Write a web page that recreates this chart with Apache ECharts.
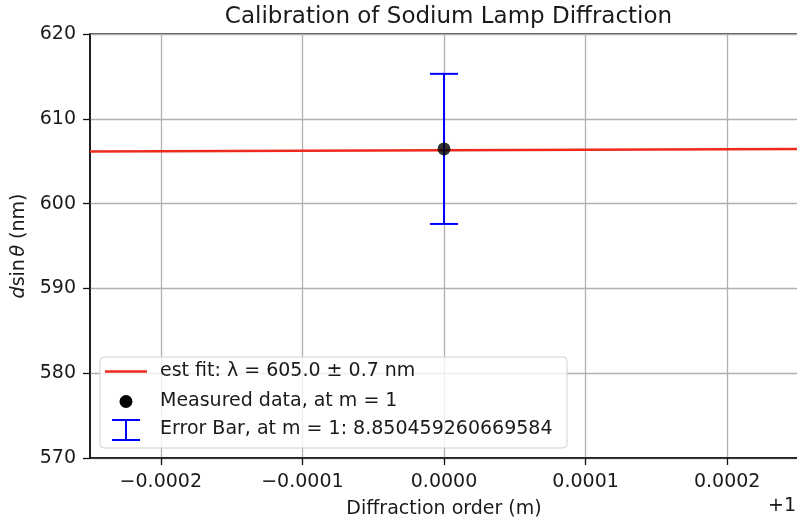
<!DOCTYPE html>
<html>
<head>
<meta charset="utf-8">
<script src="https://cdn.jsdelivr.net/npm/echarts@6/dist/echarts.min.js"></script>
<style>
html,body{margin:0;padding:0;background:#fff;}
#chart{width:797px;height:519px;}
</style>
</head>
<body>
<div id="chart"></div>
<script>
// ---- data (x values are offsets from m = 1) ----
const titleText = 'Calibration of Sodium Lamp Diffraction';
const xTicks = [-0.0002, -0.0001, 0, 0.0001, 0.0002];
const xRange = [-0.00025, 0.00025];
const yRange = [570, 620];
const yStep = 10;
const fitX = [-0.00025, 0.00025];
const fitY = [606.15, 606.45];
const measuredX = [0];
const measuredY = [606.45];
const errorHalf = [8.850459260669584];
const legendNames = ['est fit: λ = 605.0 ± 0.7 nm', 'Measured data, at m = 1', 'Error Bar, at m = 1: 8.850459260669584'];

const FONT = 'DejaVu Sans';
const TXT = '#1a1a1a';

function fmtX(v) {
  const s = Math.abs(v).toFixed(4);
  return (v < -1e-12 ? '\u2212' : '') + s;
}

const chart = echarts.init(document.getElementById('chart'), null, {renderer: 'canvas'});

const gridL = 90, gridT = 34, gridB = 61;

const option = {
  animation: false,
  backgroundColor: '#ffffff',
  textStyle: {fontFamily: FONT},
  title: {
    text: titleText,
    left: 443.5,
    top: 1,
    textAlign: 'center',
    textStyle: {fontFamily: FONT, fontSize: 23, fontWeight: 'normal', color: TXT}
  },
  grid: {
    left: gridL, top: gridT, bottom: gridB, right: -1,
    containLabel: false,
    outerBoundsMode: 'none',
    show: true, borderColor: '#111', borderWidth: 1.5, backgroundColor: 'transparent'
  },
  xAxis: {
    type: 'value',
    min: xRange[0], max: xRange[1],
    name: 'Diffraction order (m)',
    nameLocation: 'middle',
    nameGap: 42,
    nameTextStyle: {fontFamily: FONT, fontSize: 19, color: TXT},
    axisLine: {show: true, onZero: false, lineStyle: {color: '#111', width: 1.5}},
    axisTick: {show: true, length: 7, customValues: xTicks, lineStyle: {color: '#111', width: 1.3}},
    axisLabel: {customValues: xTicks, formatter: fmtX, fontFamily: FONT, fontSize: 19, color: TXT, margin: 15},
    splitLine: {show: true, lineStyle: {color: '#b0b0b0', width: 1.3}}
  },
  yAxis: {
    type: 'value',
    min: yRange[0], max: yRange[1], interval: yStep,
    name: '{i|d}sin{s| }{i|θ} (nm)',
    nameLocation: 'middle',
    nameRotate: 90,
    nameGap: 60,
    nameTextStyle: {
      fontFamily: FONT, fontSize: 19, color: TXT,
      rich: {
        i: {fontFamily: FONT, fontSize: 19, fontStyle: 'italic', color: TXT},
        s: {fontFamily: FONT, fontSize: 8, color: TXT}
      }
    },
    axisLine: {show: true, onZero: false, lineStyle: {color: '#111', width: 1.5}},
    axisTick: {show: true, length: 7, lineStyle: {color: '#111', width: 1.3}},
    axisLabel: {fontFamily: FONT, fontSize: 19, color: TXT, margin: 14},
    splitLine: {show: true, lineStyle: {color: '#b0b0b0', width: 1.3}}
  },
  series: [
    {
      name: legendNames[0],
      type: 'line',
      data: fitX.map((x, i) => [x, fitY[i]]),
      symbol: 'none',
      lineStyle: {color: '#ee2a1e', width: 2.5},
      z: 2
    },
    {
      name: legendNames[2],
      type: 'custom',
      data: measuredX.map((x, i) => [x, measuredY[i], errorHalf[i]]),
      renderItem: function (params, api) {
        const x = api.value(0), y = api.value(1), e = api.value(2);
        const top = api.coord([x, y + e]);
        const bot = api.coord([x, y - e]);
        const cap = 14;
        const st = {stroke: '#0000ff', lineWidth: 2};
        return {
          type: 'group',
          children: [
            {type: 'line', shape: {x1: top[0], y1: top[1], x2: bot[0], y2: bot[1]}, style: st},
            {type: 'line', shape: {x1: top[0] - cap, y1: top[1], x2: top[0] + cap, y2: top[1]}, style: st},
            {type: 'line', shape: {x1: bot[0] - cap, y1: bot[1], x2: bot[0] + cap, y2: bot[1]}, style: st}
          ]
        };
      },
      z: 3
    },
    {
      name: legendNames[1],
      type: 'scatter',
      data: measuredX.map((x, i) => [x, measuredY[i]]),
      symbol: 'circle',
      symbolSize: 13,
      itemStyle: {color: '#000000'},
      z: 4
    }
  ],
  graphic: [
    {
      type: 'group',
      z: 100,
      children: [
        {type: 'rect', shape: {x: 100, y: 357, width: 467, height: 91, r: 4},
         style: {fill: 'rgba(255,255,255,0.8)', stroke: '#d0d0d0', lineWidth: 1}, z: 100},
        {type: 'line', shape: {x1: 105, y1: 371.5, x2: 147, y2: 371.5},
         style: {stroke: '#ee2a1e', lineWidth: 2.5}, z: 101},
        {type: 'circle', shape: {cx: 126, cy: 401.5, r: 6.5}, style: {fill: '#000'}, z: 101},
        {type: 'line', shape: {x1: 126, y1: 420, x2: 126, y2: 440}, style: {stroke: '#0000ff', lineWidth: 2}, z: 101},
        {type: 'line', shape: {x1: 112, y1: 420, x2: 140, y2: 420}, style: {stroke: '#0000ff', lineWidth: 2}, z: 101},
        {type: 'line', shape: {x1: 112, y1: 440, x2: 140, y2: 440}, style: {stroke: '#0000ff', lineWidth: 2}, z: 101},
        {type: 'text', x: 160, y: 371.5, style: {text: legendNames[0], font: '19px "DejaVu Sans"', fill: TXT, textVerticalAlign: 'middle', verticalAlign: 'middle'}, z: 101},
        {type: 'text', x: 160, y: 401, style: {text: legendNames[1], font: '19px "DejaVu Sans"', fill: TXT, textVerticalAlign: 'middle', verticalAlign: 'middle'}, z: 101},
        {type: 'text', x: 160, y: 429.5, style: {text: legendNames[2], font: '19px "DejaVu Sans"', fill: TXT, textVerticalAlign: 'middle', verticalAlign: 'middle'}, z: 101}
      ]
    },
    {
      type: 'text', right: 1, top: 497, z: 100,
      style: {text: '+1', font: '19px "DejaVu Sans"', fill: TXT}
    }
  ]
};

chart.setOption(option);
</script>
</body>
</html>
